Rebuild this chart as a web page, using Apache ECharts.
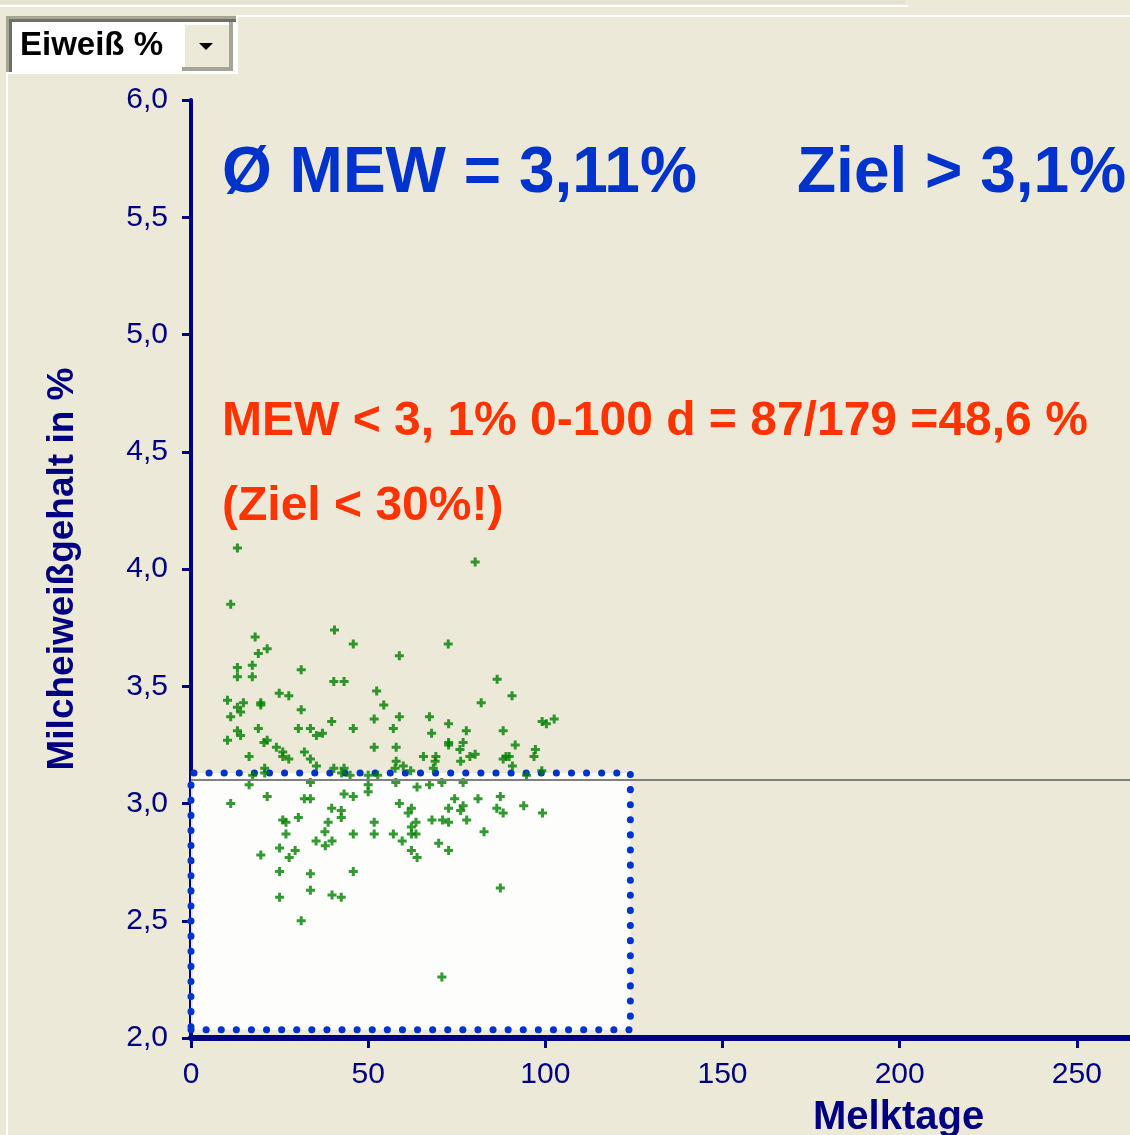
<!DOCTYPE html>
<html>
<head>
<meta charset="utf-8">
<script src="https://cdn.jsdelivr.net/npm/echarts@6/dist/echarts.min.js"></script>
<style>
  html, body { margin: 0; padding: 0; background: #ECE9D8; }
  #chart { width: 1130px; height: 1135px; }
</style>
</head>
<body>
<div id="chart"></div>
<script>
// Melktage (x) und Milcheiweißgehalt % (y)
const melktage = [
  13.1, 11.2, 80.2, 18.1, 21.5, 19.0, 17.3, 13.1, 13.1, 17.3, 31.1, 40.5, 45.8, 72.6, 58.8, 86.4,
  40.3, 43.2, 52.4, 24.9, 27.6, 10.3, 14.8, 19.7, 19.7, 13.1, 14.0, 31.1, 11.2, 39.7, 51.7, 19.0,
  30.3, 33.7, 45.8, 13.1, 14.0, 10.3, 21.5, 20.6, 35.4, 37.1, 51.7, 24.1, 16.4, 25.9, 25.9, 27.6,
  32.0, 33.7, 35.4, 40.3, 43.2, 20.8, 20.8, 17.4, 42.5, 44.9, 50.0, 52.7, 90.6, 81.9, 54.4, 58.8,
  67.3, 102.5, 99.1, 100.3, 57.1, 72.7, 77.7, 67.9, 88.1, 76.8, 72.7, 72.7, 91.5, 57.9, 75.9, 97.2,
  96.8, 78.7, 80.2, 65.6, 69.1, 88.9, 89.8, 88.1, 57.9, 68.9, 76.1, 59.9, 57.6, 68.4, 90.7, 62.0,
  99.0, 94.7,
  16.4, 33.7, 50.0, 57.8, 63.8, 67.3, 70.8, 76.8, 50.0, 11.2, 21.5, 32.0, 33.7, 43.2, 45.8, 39.7,
  42.4, 42.4, 30.3, 25.9, 26.8, 38.7, 51.7, 37.8, 26.8, 45.8, 51.7, 35.3, 39.8, 37.9, 25.0, 29.4,
  27.7, 19.7, 25.0, 33.7, 45.8, 33.7, 25.0, 39.8, 42.4, 31.1, 58.8, 62.2, 61.3, 74.4, 72.7, 76.8,
  76.1, 81.0, 87.3, 86.3, 88.1, 93.9, 99.2, 57.1, 59.6, 62.2, 63.5, 62.2, 63.5, 68.0, 71.0, 72.7,
  77.8, 82.7, 69.9, 62.2, 63.8, 72.7, 87.3, 70.8
];
const eiweiss = [
  4.09, 3.85, 4.03, 3.71, 3.66, 3.64, 3.59, 3.58, 3.54, 3.54, 3.57, 3.74, 3.68, 3.68, 3.63, 3.53,
  3.52, 3.52, 3.48, 3.47, 3.46, 3.44, 3.43, 3.43, 3.42, 3.41, 3.39, 3.40, 3.37, 3.35, 3.36, 3.32,
  3.32, 3.32, 3.32, 3.31, 3.29, 3.27, 3.27, 3.26, 3.29, 3.30, 3.24, 3.24, 3.20, 3.22, 3.20, 3.19,
  3.22, 3.19, 3.16, 3.15, 3.15, 3.15, 3.13, 3.12, 3.13, 3.12, 3.12, 3.12, 3.46, 3.43, 3.42, 3.37,
  3.37, 3.36, 3.35, 3.34, 3.32, 3.34, 3.31, 3.30, 3.31, 3.26, 3.26, 3.25, 3.25, 3.24, 3.23, 3.23,
  3.20, 3.20, 3.21, 3.20, 3.20, 3.20, 3.20, 3.19, 3.18, 3.18, 3.18, 3.16, 3.15, 3.15, 3.16, 3.14,
  3.14, 3.12,
  3.08, 3.09, 3.08, 3.09, 3.07, 3.08, 3.09, 3.09, 3.05, 3.00, 3.03, 3.02, 3.02, 3.04, 3.03, 2.98,
  2.97, 2.94, 2.94, 2.93, 2.92, 2.92, 2.92, 2.88, 2.87, 2.87, 2.87, 2.84, 2.84, 2.82, 2.81, 2.80,
  2.77, 2.78, 2.71, 2.70, 2.71, 2.63, 2.60, 2.61, 2.60, 2.50, 3.00, 2.98, 2.96, 3.02, 2.98, 2.99,
  2.97, 3.02, 3.03, 2.98, 2.96, 2.99, 2.96, 2.87, 2.84, 2.90, 2.92, 2.87, 2.87, 2.93, 2.93, 2.92,
  2.93, 2.88, 2.83, 2.80, 2.77, 2.80, 2.64, 2.26
];

const zielWert = 3.1;
// markierter Bereich 0-124 Tage, unter ~3,13 %
const bereichVon = [0, 2.035];
const bereichBis = [124, 3.13];

const navy = '#000080';
const blau = '#0033CC';
const rot = '#FF3300';
const plus = 'path://M3,0h3v3h3v3h-3v3h-3v-3h-3v-3h3z';

const chart = echarts.init(document.getElementById('chart'));

const option = {
  backgroundColor: '#ECE9D8',
  animation: false,
  grid: {
    left: 191,
    top: 100,
    bottom: 97,
    right: -124,
    outerBoundsMode: 'none',
    containLabel: false
  },
  xAxis: {
    type: 'value',
    min: 0,
    max: 300,
    interval: 50,
    axisLine: { lineStyle: { color: navy, width: 6 } },
    axisTick: { length: 10, lineStyle: { color: navy, width: 3 } },
    axisLabel: {
      margin: 22,
      color: navy,
      fontSize: 30,
      fontFamily: 'Liberation Sans'
    },
    splitLine: { show: false }
  },
  yAxis: {
    type: 'value',
    min: 2,
    max: 6,
    interval: 0.5,
    name: 'Milcheiweißgehalt in %',
    nameLocation: 'middle',
    nameRotate: 90,
    nameGap: 110,
    nameTextStyle: {
      color: navy,
      fontSize: 37,
      fontWeight: 'bold',
      fontFamily: 'Liberation Sans'
    },
    axisLine: { show: true, lineStyle: { color: navy, width: 4 } },
    axisTick: { show: true, length: 9, lineStyle: { color: navy, width: 3 } },
    axisLabel: {
      margin: 23,
      color: navy,
      fontSize: 30,
      fontFamily: 'Liberation Sans',
      formatter: v => v.toFixed(1).replace('.', ',')
    },
    splitLine: { show: false }
  },
  series: [
    {
      type: 'scatter',
      z: 2,
      symbol: plus,
      symbolSize: 9,
      itemStyle: { color: '#008000' },
      data: melktage.map((d, i) => [d, eiweiss[i]]),
      markLine: {
        silent: true,
        symbol: 'none',
        label: { show: false },
        lineStyle: { color: '#808080', width: 2, type: 'solid' },
        data: [{ yAxis: zielWert }]
      }
    },
    {
      type: 'scatter',
      z: 5,
      data: [],
      markArea: {
        silent: true,
        itemStyle: {
          color: 'rgba(255,255,255,0.9)',
          borderColor: blau,
          borderWidth: 7,
          borderType: [0.1, 15],
          borderCap: 'round'
        },
        data: [[{ coord: bereichVon }, { coord: bereichBis }]]
      }
    }
  ],
  graphic: [
    // Fensterrahmen
    { type: 'line', shape: { x1: 0, y1: 6, x2: 908, y2: 6 }, style: { stroke: '#FFFFFF', lineWidth: 2 } },
    { type: 'line', shape: { x1: 0, y1: 2, x2: 905, y2: 2 }, style: { stroke: '#E2DFCC', lineWidth: 3 } },
    { type: 'polyline', shape: { points: [[7, 1135], [7, 73], [237, 73], [237, 16], [1130, 16]] },
      style: { stroke: '#FFFFFF', fill: null, lineWidth: 2 } },
    // Auswahlfeld
    { type: 'rect', shape: { x: 6, y: 16, width: 230, height: 56 }, style: { fill: '#A6A494' } },
    { type: 'rect', shape: { x: 9, y: 19, width: 227, height: 53 }, style: { fill: '#716F64' } },
    { type: 'rect', shape: { x: 12, y: 22, width: 224, height: 50 }, style: { fill: '#FFFFFF' } },
    { type: 'rect', shape: { x: 182, y: 22, width: 51, height: 49 }, style: { fill: '#A6A494' } },
    { type: 'rect', shape: { x: 182, y: 22, width: 47, height: 45 }, style: { fill: '#FFFFFF' } },
    { type: 'rect', shape: { x: 185, y: 25, width: 44, height: 42 }, style: { fill: '#ECE9D8' } },
    { type: 'polygon', shape: { points: [[199, 43], [213, 43], [206, 50]] }, style: { fill: '#000000' } },
    { type: 'text', x: 20, y: 46,
      style: { text: 'Eiweiß %', fill: '#000000', font: 'bold 33px "Liberation Sans"', verticalAlign: 'middle' } },
    // Texte
    { type: 'text', x: 222, y: 174, z: 10,
      style: { text: 'Ø MEW = 3,11%', fill: blau, font: 'bold 64px "Liberation Sans"', verticalAlign: 'middle' } },
    { type: 'text', x: 797, y: 174, z: 10,
      style: { text: 'Ziel > 3,1%', fill: blau, font: 'bold 64px "Liberation Sans"', verticalAlign: 'middle' } },
    { type: 'text', x: 222, y: 422, z: 10,
      style: { text: 'MEW < 3, 1% 0-100 d = 87/179 =48,6 %', fill: rot, font: 'bold 48px "Liberation Sans"', verticalAlign: 'middle' } },
    { type: 'text', x: 222, y: 507, z: 10,
      style: { text: '(Ziel < 30%!)', fill: rot, font: 'bold 48px "Liberation Sans"', verticalAlign: 'middle' } },
    { type: 'text', x: 813, y: 1118, z: 10,
      style: { text: 'Melktage', fill: navy, font: 'bold 40px "Liberation Sans"', verticalAlign: 'middle' } }
  ]
};

chart.setOption(option);
</script>
</body>
</html>
